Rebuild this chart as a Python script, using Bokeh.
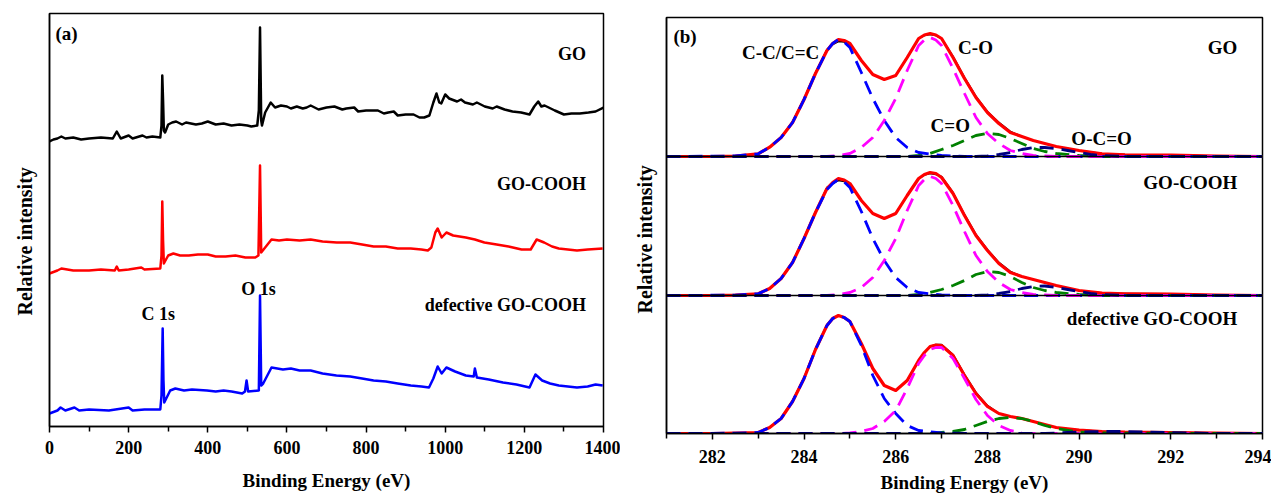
from bokeh.plotting import figure
from bokeh.layouts import row, column
from bokeh.models import Range1d, FixedTicker, Span, Title
from bokeh.embed import file_html
from bokeh.resources import INLINE
from bokeh.core.properties import value

FONT = "Liberation Serif"

# ---------------- Panel (a): XPS survey spectra (stacked, arbitrary units) ----------------
go_be = [0, 10, 20, 30, 40, 60, 80, 100, 130, 160, 170, 180, 200, 210, 235, 245, 260, 280, 283, 285,
         287, 289, 292, 296, 300, 310, 320, 335, 345, 370, 385, 400, 420, 440, 460, 480, 500, 510, 525,
         529, 532, 535, 537, 545, 559, 570, 585, 600, 610, 625, 640, 650, 660, 680, 700, 720, 740, 750,
         770, 780, 800, 830, 845, 856, 870, 880, 900, 920, 935, 947, 960, 970, 978, 985, 990, 1000, 1010,
         1030, 1040, 1050, 1070, 1080, 1100, 1120, 1130, 1150, 1170, 1192, 1213, 1225, 1235, 1243, 1251,
         1277, 1300, 1319, 1340, 1362, 1380, 1400]
go_int = [285, 287, 288, 290, 288, 289, 287, 288, 289, 288, 295, 288, 291, 288, 291, 289, 290, 289, 301, 351,
          326, 296, 294, 298, 302, 304, 305, 302, 304, 302, 303, 305, 302, 303, 301, 302, 301, 300, 301,
          316, 399, 306, 301, 314, 324, 319, 321, 320, 318, 320, 318, 319, 321, 317, 319, 320, 317, 318,
          319, 315, 316, 316, 313, 314, 315, 311, 312, 312, 309, 309, 311, 324, 333, 324, 323, 332, 328,
          325, 327, 324, 322, 324, 320, 318, 320, 317, 315, 314, 312, 320, 325, 320, 321,
          316, 312, 313, 313, 314, 315, 319]

cooh_be = [0, 20, 30, 60, 100, 130, 165, 170, 175, 200, 232, 240, 280, 283, 285, 287, 289, 293, 300, 313,
           330, 352, 375, 400, 420, 445, 470, 495, 520, 528, 532, 535, 537, 545, 561, 580, 600, 632, 660,
           690, 726, 760, 790, 819, 850, 880, 913, 940, 956, 965, 975, 981, 991, 1003, 1020, 1052, 1075,
           1099, 1130, 1160, 1193, 1216, 1231, 1250, 1270, 1287, 1310, 1333, 1360, 1398]
cooh_int = [153, 156, 158, 156, 156, 157, 156, 160, 156, 157, 159, 157, 158, 171, 225, 186, 163, 166, 171, 173,
            171, 171, 172, 172, 170, 170, 171, 169, 169, 171, 261, 174, 175, 179, 187, 186, 187, 186, 187,
            185, 184, 184, 182, 180, 180, 178, 178, 177, 176, 179, 194, 198, 189, 194, 191, 189, 187,
            184, 182, 180, 177, 177, 187, 184, 180, 178, 177, 176, 177, 178]

def_be = [0, 20, 28, 40, 63, 75, 100, 150, 200, 210, 240, 280, 283, 286, 288, 290, 295, 305, 318, 340,
          360, 398, 420, 440, 460, 487, 494, 498, 502, 529, 532, 535, 540, 561, 590, 610, 632, 660, 690,
          725, 760, 790, 819, 850, 880, 913, 940, 959, 970, 981, 991, 1003, 1025, 1052, 1072, 1075, 1080,
          1110, 1146, 1180, 1213, 1228, 1245, 1265, 1287, 1310, 1333, 1360, 1380, 1398]
def_int = [13, 16, 19, 16, 19, 16, 17, 16, 19, 16, 17, 17, 31, 98, 46, 24, 28, 36, 38, 36,
           37, 36, 35, 36, 35, 33, 35, 46, 35, 36, 131, 41, 43, 59, 57, 58, 56, 56, 53,
           51, 50, 48, 46, 45, 43, 41, 40, 39, 48, 60, 53, 59, 55, 51, 50, 58, 49,
           47, 44, 42, 39, 52, 46, 43, 41, 40, 39, 40, 42, 41]

a_labels = ["GO", "GO-COOH", "defective GO-COOH"]
a_label_x = [1356, 1356, 1356]
a_label_y = [373, 243, 122]
peak_labels = ["C 1s", "O 1s"]
peak_label_x = [275, 528]
peak_label_y = [113, 138]

survey_ticks = [0, 200, 400, 600, 800, 1000, 1200, 1400]
survey_minor = [100, 300, 500, 700, 900, 1100, 1300]

# ---------------- Panel (b): C 1s high-resolution spectra ----------------
env_be = [281, 282, 282.5, 283, 283.25, 283.5, 283.75, 284, 284.25, 284.5, 284.625, 284.75, 284.875, 285,
          285.25, 285.5, 285.75, 286, 286.25, 286.5, 286.625, 286.75, 286.875, 287, 287.25, 287.5, 287.75,
          288, 288.25, 288.5, 288.75, 289, 289.5, 290, 290.5, 291, 292, 292.5, 293, 294]

# GO
go_env = [0, 0, 0.5, 2.7, 9.3, 19, 34, 57, 83, 106, 113, 117, 116, 113, 96, 82, 77, 81, 99, 118, 121.5,
          123, 121.5, 118, 99, 78, 59, 44, 33, 24, 20, 16, 10, 6, 2.7, 1.7, 1.3, 1, 0.5, 0]
go_raw = [0, 0, 0.5, 2.5, 9, 19, 35, 58, 84, 107, 112, 115, 114.5, 112, 96, 82, 77, 81, 99, 118, 121,
          122, 121, 118, 100, 79, 60, 45, 34, 25, 20, 16, 10, 6, 3, 2, 1.8, 1, 0.5, 0]
# GO-COOH
cooh_env = [0, 0, 0.4, 1.7, 7, 17, 33, 57, 83, 107, 113, 117, 115.5, 112, 95, 82, 77, 82, 100, 117, 121,
            123, 122, 118, 102, 80, 60, 45, 32, 23, 19, 16, 10, 5, 2.3, 1.7, 1.3, 1, 0.5, 0]
cooh_raw = [0, 0, 0.4, 1.5, 7, 17, 34, 58, 84, 108, 112, 115, 114, 111, 95, 82, 77, 82, 100, 117, 120.5,
            122, 121, 119, 103, 81, 61, 46, 33, 24, 19, 16, 10, 5, 2.5, 2, 1.8, 1, 0.5, 0]
# defective GO-COOH
def_env = [0, 0, 0.3, 1, 6, 15, 32, 55, 84, 108, 115, 118, 116, 112, 90, 65, 48, 43, 53, 73, 81,
           87, 88.5, 88, 78, 58, 40, 27, 20, 17, 15, 12, 6, 3.3, 2, 1.3, 1, 0.7, 0.3, 0]
def_raw = [0, 0, 0.3, 1, 6, 15, 33, 56, 85, 109, 115, 118, 116, 112, 90, 65, 48, 43, 53, 73, 81,
           87, 89, 89, 79, 59, 41, 28, 20, 17, 15, 12, 6, 3.5, 2.2, 1.5, 1.2, 0.8, 0.3, 0]

# fitted components: C-C/C=C (blue)
cc_be = [281, 282.5, 283, 283.25, 283.5, 283.75, 284, 284.25, 284.5, 284.625, 284.75, 284.875, 285, 285.25,
         285.5, 285.75, 286, 286.25, 286.5, 287, 287.5, 294]
go_cc = [0, 0.5, 2.7, 9.3, 19, 34, 57, 83, 106, 113, 117, 114.5, 109, 84, 58, 36, 19, 9, 4, 1, 0, 0]
cooh_cc = [0, 0.4, 1.7, 7, 17, 33, 57, 83, 106, 112, 116, 113.5, 108, 84, 57, 35, 18, 8, 3, 0.5, 0, 0]
def_cc = [0, 0.3, 1, 6, 15, 32, 55, 84, 108, 115, 118, 116, 112, 88, 58, 35, 20, 8, 3, 0.5, 0, 0]

# C-O (magenta)
co_be = [281, 284.5, 284.75, 285, 285.25, 285.5, 285.75, 286, 286.25, 286.5, 286.625, 286.75, 286.875, 287,
         287.25, 287.5, 287.75, 288, 288.25, 288.5, 288.75, 289, 289.5, 294]
go_co = [0, 0, 1, 3, 9, 19, 36, 58, 86, 111, 116.5, 119, 116.5, 111, 88, 63, 39, 23, 13, 6, 3, 1, 0, 0]
cooh_co = [0, 0, 1, 3, 8, 18, 35, 57, 85, 110, 116, 119, 117, 112, 90, 64, 40, 24, 13, 6, 3, 1, 0, 0]
def_co = [0, 0, 0, 0.5, 2, 5, 12, 23, 45, 70, 78, 84, 86, 86, 75, 55, 34, 18, 8, 3, 1, 0, 0, 0]

# C=O (green)
cdo_be = [281, 286.25, 286.5, 286.75, 287, 287.25, 287.5, 287.75, 288, 288.25, 288.5, 288.75, 289,
          289.25, 289.5, 290, 290.5, 294]
go_cdo = [0, 0, 1, 3, 7, 11, 16, 21, 23, 22, 18, 13, 8, 5, 3, 1, 0, 0]
cooh_cdo = [0, 0, 1, 3, 6, 10, 15, 21, 24, 23, 19, 13, 8, 5, 3, 1, 0, 0]
def_cdo = [0, 0, 0, 0, 1, 2, 4, 8, 12, 15, 16, 15, 12, 8, 5, 1.5, 0.5, 0]

# O-C=O (navy)
occ_be = [281, 287.75, 288, 288.25, 288.5, 288.75, 289, 289.25, 289.5, 289.75, 290, 290.25, 290.5, 291,
          291.5, 292, 292.5, 293, 294]
go_occ = [0, 0, 0.5, 2, 4, 7, 9, 9, 8, 6, 4, 2, 1, 0, 0, 0, 0, 0, 0]
cooh_occ = [0, 0, 0.5, 2, 4, 7, 9, 9.5, 8, 6, 4, 2, 1, 0, 0, 0, 0, 0, 0]
def_occ = [0, 0, 0, 0, 0, 0, 0, 0, 0.5, 1, 1.5, 1.8, 2, 2, 1.5, 1, 0.5, 0, 0]

stack_offsets = [277, 138, 0]           # GO, GO-COOH, defective GO-COOH
b_names = ["GO", "GO-COOH", "defective GO-COOH"]
b_label_x = [293.45, 293.45, 293.45]
b_label_y = [386, 251, 115]
comp_labels = ["C-C/C=C", "C-O", "C=O", "O-C=O"]
comp_label_x = [283.49, 287.74, 287.19, 290.49]
comp_label_y = [381, 386, 308, 295]

c1s_ticks = [282, 284, 286, 288, 290, 292, 294]
c1s_minor = [281, 283, 285, 287, 289, 291, 293]

X_TITLE = "Binding Energy (eV)"
Y_TITLE = "Relative intensity"


def style_axes(p, xlab_standoff, xtick_standoff, ytitle_standoff, ytitle_offset):
    p.grid.visible = False
    p.outline_line_color = "black"
    p.outline_line_width = 1.5
    p.outline_line_alpha = 1.0
    for ax in p.xaxis + p.yaxis:
        ax.axis_line_color = "black"
        ax.axis_line_width = 1.5
        ax.major_tick_line_color = "black"
        ax.minor_tick_line_color = "black"
        ax.major_tick_line_width = 1.5
        ax.minor_tick_line_width = 1.5
        ax.axis_label_text_font = FONT
        ax.axis_label_text_font_style = "bold"
        ax.axis_label_text_font_size = "19px"
        ax.axis_label_text_color = "black"
        ax.major_label_text_font = FONT
        ax.major_label_text_font_style = "bold"
        ax.major_label_text_font_size = "18px"
        ax.major_label_text_color = "black"
    p.xaxis.major_tick_in = 0
    p.xaxis.major_tick_out = 6
    p.xaxis.minor_tick_in = 0
    p.xaxis.minor_tick_out = 5
    p.xaxis.major_label_standoff = xtick_standoff
    p.xaxis.axis_label_standoff = xlab_standoff
    p.xaxis.axis_label = X_TITLE
    p.yaxis.ticker = FixedTicker(ticks=[])
    p.yaxis.major_tick_out = 0
    p.yaxis.major_tick_in = 0
    p.yaxis.minor_tick_out = 0
    p.yaxis.minor_tick_in = 0
    p.yaxis.major_label_standoff = 0
    p.add_layout(Title(text=Y_TITLE, align="left", vertical_align="top", offset=ytitle_offset,
                       standoff=ytitle_standoff, text_font=FONT, text_font_style="bold",
                       text_font_size="20px", text_color="black"), "left")


# ---------- figure (a)
pa = figure(width=620, height=496, x_range=Range1d(0, 1400), y_range=Range1d(0, 413),
            output_backend="svg", toolbar_location=None,
            min_border_left=49, min_border_right=17, min_border_top=13, min_border_bottom=70)
style_axes(pa, xlab_standoff=13, xtick_standoff=8, ytitle_standoff=24, ytitle_offset=111)
pa.xaxis.ticker = FixedTicker(ticks=survey_ticks, minor_ticks=survey_minor)

pa.line(go_be, go_int, line_color="black", line_width=2.5, line_join="round")
pa.line(cooh_be, cooh_int, line_color="#FF0000", line_width=2.5, line_join="round")
pa.line(def_be, def_int, line_color="#0000FF", line_width=2.5, line_join="round")

pa.text(x=a_label_x, y=a_label_y, text=a_labels, text_font=value(FONT), text_font_style="bold",
        text_font_size="18px", text_align="right", text_baseline="middle", text_color="black")
pa.text(x=peak_label_x, y=peak_label_y, text=peak_labels, text_font=value(FONT), text_font_style="bold",
        text_font_size="18px", text_align="center", text_baseline="middle", text_color="black")
pa.text(x=[15], y=[393], text=["(a)"], text_font=value(FONT), text_font_style="bold",
        text_font_size="19px", text_align="left", text_baseline="middle", text_color="black")

# ---------- figure (b)
pb = figure(width=651, height=496, x_range=Range1d(281, 294), y_range=Range1d(0, 416),
            output_backend="svg", toolbar_location=None,
            min_border_left=46, min_border_right=9, min_border_top=17, min_border_bottom=63)
style_axes(pb, xlab_standoff=6, xtick_standoff=10, ytitle_standoff=18, ytitle_offset=120)
pb.xaxis.ticker = FixedTicker(ticks=c1s_ticks, minor_ticks=c1s_minor)

for off in stack_offsets[:2]:
    pb.add_layout(Span(location=off, dimension="width", line_color="black", line_width=1.5))

sets = [
    (go_raw, go_env, go_cc, go_co, go_cdo, go_occ),
    (cooh_raw, cooh_env, cooh_cc, cooh_co, cooh_cdo, cooh_occ),
    (def_raw, def_env, def_cc, def_co, def_cdo, def_occ),
]
DASH = "14 8"
for off, (raw, env, cc, co, cdo, occ) in zip(stack_offsets, sets):
    pb.line(env_be, [v + off for v in raw], line_color="black", line_width=1.6, line_join="round")
    pb.line(env_be, [v + off for v in env], line_color="#FF0000", line_width=3.2, line_join="round")
    pb.line(cdo_be, [v + off for v in cdo], line_color="#008000", line_width=2.8, line_dash=DASH)
    pb.line(cc_be, [v + off for v in cc], line_color="#0000FF", line_width=2.8, line_dash=DASH)
    pb.line(co_be, [v + off for v in co], line_color="#FF00FF", line_width=2.8, line_dash=DASH)
    pb.line(occ_be, [v + off for v in occ], line_color="#000080", line_width=2.8, line_dash=DASH)

pb.text(x=b_label_x, y=b_label_y, text=b_names, text_font=value(FONT), text_font_style="bold",
        text_font_size="19px", text_align="right", text_baseline="middle", text_color="black")
pb.text(x=comp_label_x, y=comp_label_y, text=comp_labels, text_font=value(FONT), text_font_style="bold",
        text_font_size="19px", text_align="center", text_baseline="middle", text_color="black")
pb.text(x=[281.15], y=[397], text=["(b)"], text_font=value(FONT), text_font_style="bold",
        text_font_size="19px", text_align="left", text_baseline="middle", text_color="black")

layout = row(column(pa), column(pb))
open("out.html", "w").write(file_html(layout, INLINE))
